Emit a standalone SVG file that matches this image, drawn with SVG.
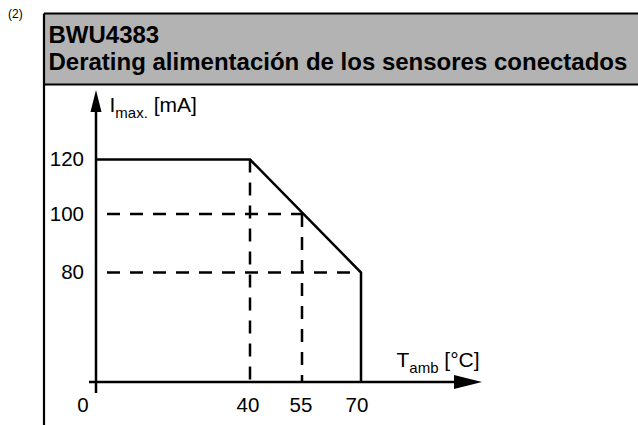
<svg xmlns="http://www.w3.org/2000/svg" width="638" height="425" viewBox="0 0 638 425">
<style>
text{font-family:"Liberation Sans",Arial,sans-serif;fill:#000}
.lbl{font-size:20.5px}
.ax{font-size:21px}
.ttl{font-size:24px;font-weight:bold}
.solid{stroke:#000;stroke-width:2.5;fill:none}
.dash{stroke:#000;stroke-width:2.5;fill:none;stroke-dasharray:13,10}
.sub{font-size:15px}
</style>
<rect width="638" height="425" fill="#fff"/>
<g id="header">
<rect x="44" y="13.5" width="600" height="71" fill="#b3b3b3"/>
<path d="M44,13.5 H640 M44,84.5 H640 M44,13.5 V425" stroke="#000" stroke-width="2.2" fill="none"/>
<text class="ttl" x="48.5" y="43">BWU4383</text>
<text class="ttl" x="48.5" y="69.5">Derating alimentación de los sensores conectados</text>
</g>
<text x="8" y="17.5" style="font-size:12px">(2)</text>
<g id="connectors">
<path class="solid" d="M96,110 V393 M89,382 H460"/>
<polygon points="96,90 90.5,112 101.5,112" fill="#000"/>
<polygon points="482,382 454,375 454,389" fill="#000"/>
<path class="solid" d="M96,159.5 H250 L361,272.5 V382"/>
<path class="dash" d="M107,214 H302 M107,272.5 H361 M250,159.5 V382 M302,214 V382"/>
</g>
<g id="labels">
<text class="lbl" x="84" y="166" text-anchor="end">120</text>
<text class="lbl" x="84" y="221" text-anchor="end">100</text>
<text class="lbl" x="84" y="279" text-anchor="end">80</text>
<text class="lbl" x="83" y="412" text-anchor="middle">0</text>
<text class="lbl" x="248" y="412" text-anchor="middle">40</text>
<text class="lbl" x="301" y="412" text-anchor="middle">55</text>
<text class="lbl" x="357" y="412" text-anchor="middle">70</text>
<text class="ax" x="109.5" y="112">I<tspan class="sub" dy="5.5">max.</tspan><tspan dy="-5.5"> [mA]</tspan></text>
<text class="ax" x="396.5" y="367">T<tspan class="sub" dy="6">amb</tspan><tspan dy="-6"> [°C]</tspan></text>
</g>
</svg>
